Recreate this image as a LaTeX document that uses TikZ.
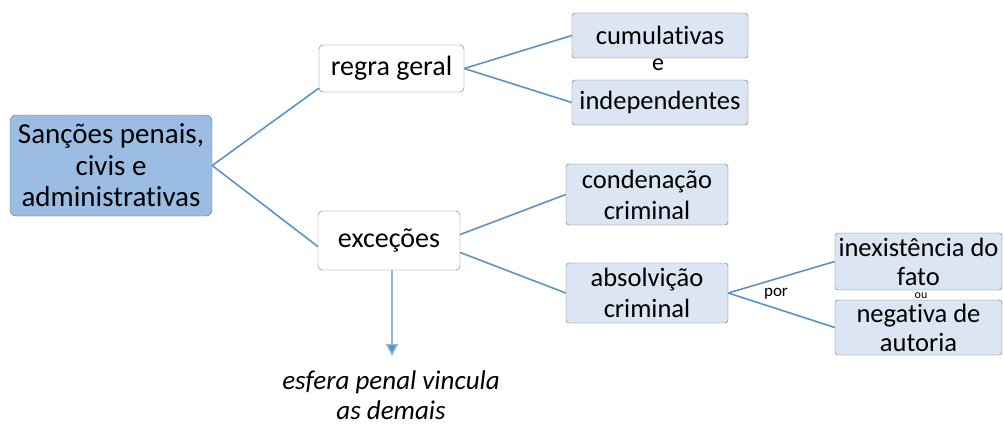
\documentclass[tikz,border=0pt]{standalone}
\usepackage{fontspec}
\setmainfont{Carlito}[Ligatures=NoCommon]
\usetikzlibrary{arrows.meta, positioning}
\definecolor{linkblue}{HTML}{5B93C7}
\definecolor{arrowblue}{HTML}{8DB8E2}
\definecolor{rootfill}{HTML}{9BBDE3}
\definecolor{leaffill}{HTML}{DCE5F3}
\definecolor{boxgray}{HTML}{6E6E6E}

\begin{document}
\begin{tikzpicture}[
      x=1pt, y=-1pt,
      every node/.style={font=\fontsize{26.5}{31}\selectfont, inner sep=1pt},
      root/.style={draw=boxgray, rounded corners=6pt, align=center, fill=rootfill, minimum width=202pt, minimum height=101pt, font=\fontsize{29}{31.5}\selectfont},
      mid/.style={draw=boxgray, rounded corners=4pt, align=center, fill=white, minimum width=145pt, font=\fontsize{28}{31}\selectfont},
      leaf/.style={draw=boxgray, rounded corners=3pt, align=center, fill=leaffill},
      link/.style={draw=linkblue, line width=1.6pt},
      small/.style={font=\fontsize{17}{18}\selectfont, inner sep=0pt}
    ]
    \useasboundingbox (0,0) rectangle (1004,424);
    \node[root] (root) at (111,165.5) {Sanções penais,\\civis e\\administrativas};
    \node[mid, minimum height=47pt] (rg) at (391.5,68.5) {regra geral};
    \node[mid, minimum width=142pt, minimum height=59pt] (exc) at (389,240.5) {exceções};
    \node[leaf, minimum width=176pt, minimum height=45pt] (cum) at (660,35.5) {cumulativas};
    \node[leaf, minimum width=176pt, minimum height=45pt] (ind) at (660,102.5) {independentes};
    \node[font=\fontsize{24}{26}\selectfont, inner sep=0pt, text height=1ex, text depth=0pt] (e) at (658,68) {e};
    \node[leaf, minimum width=162pt, minimum height=61pt] (cond) at (647,194.5) {condenação\\criminal};
    \node[leaf, minimum width=162pt, minimum height=60pt] (abs) at (647,293) {absolvição\\criminal};
    \node[leaf, minimum width=167pt, minimum height=57pt, font=\fontsize{26.5}{29}\selectfont] (inex) at (918.5,261.5) {inexistência do\\fato};
    \node[leaf, minimum width=167pt, minimum height=55pt, font=\fontsize{26.5}{29}\selectfont] (neg) at (918.5,327.5) {negativa de\\autoria};
    \node[small, text height=1.4ex, text depth=0.5ex] (por) at (776,294) {por};
    \node[small, font=\fontsize{12}{13}\selectfont, text height=1ex, text depth=0pt] (ou) at (921,296) {ou};
    \node[align=center, font=\fontsize{27}{30}\selectfont\itshape] (esf) at (391,395) {esfera penal vincula\\as demais};
    \coordinate (tip) at (392,356);

    \draw[link] (root.east) -- ([yshift=4pt]rg.south west);
    \draw[link] (root.east) -- ([yshift=-6pt]exc.west);
    \draw[link] (rg.east) -- (cum.west);
    \draw[link] (rg.east) -- (ind.west);
    \draw[link] ([yshift=6pt]exc.east) -- (cond.west);
    \draw[link] ([yshift=-12pt]exc.east) -- (abs.west);
    \draw[link] (abs.east) -- (inex.west);
    \draw[link] (abs.east) -- (neg.west);
    \draw[draw=arrowblue, line width=1.4pt, -{Triangle[length=12pt, width=12pt, fill=linkblue]}] (exc.south -| tip) -- (tip);
  \end{tikzpicture}
\end{document}
